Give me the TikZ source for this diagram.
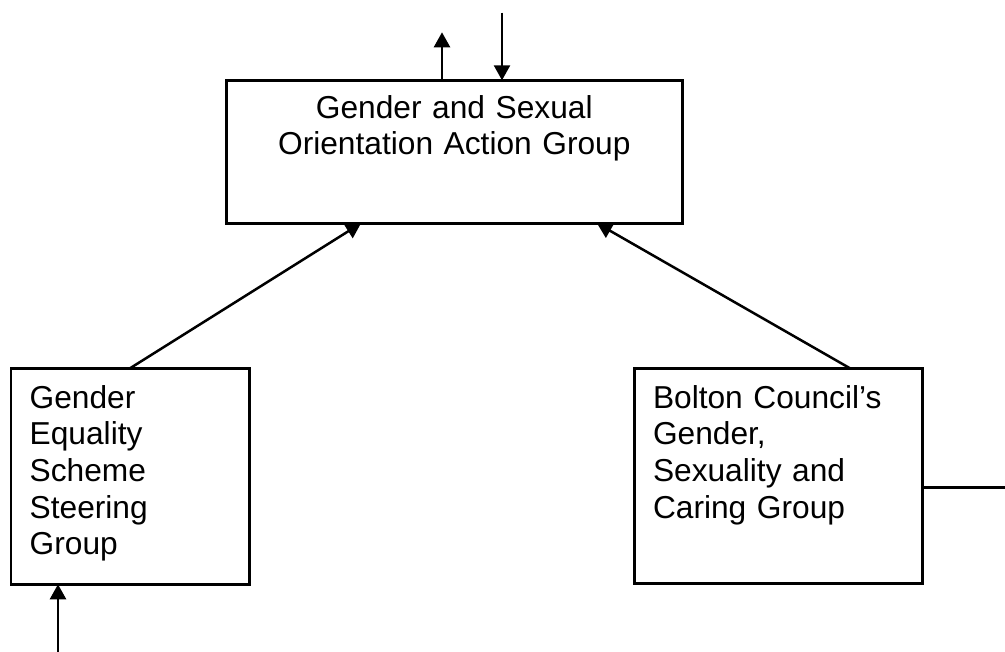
\documentclass[tikz,border=0pt]{standalone}
\usepackage{fontspec}
\setmainfont{Liberation Sans}
\usetikzlibrary{arrows.meta}

\tikzset{
  groupbox/.style={draw, line width=2.5pt, inner sep=0pt, outer sep=0pt, anchor=north west},
  grouptext/.style={inner sep=0pt, text width=#1, font=\fontsize{31.7}{36.6}\selectfont},
  link/.style={line width=2.5pt, -{Triangle[length=15pt,width=16pt]}}
}

\begin{document}
\begin{tikzpicture}[x=1pt, y=-1pt]
\useasboundingbox (0,0) rectangle (1005,652);

% boxes
\node[groupbox, minimum width=456pt, minimum height=143pt] (gsoag) at (226.3,80.3) {};
\node[groupbox, minimum width=238.5pt, minimum height=216pt] (gess) at (11,368.3) {};
\node[groupbox, minimum width=288.2pt, minimum height=215.2pt] (bolton) at (634.3,368.3) {};

% texts
\node[grouptext=440pt, align=center, anchor=base] (gsoagtext) at ([yshift=-38pt]gsoag.north)
  {Gender and Sexual\\Orientation Action Group};
\node[grouptext=215pt, align=left, anchor=base west] (gesstext) at ([shift={(18.5,40)}]gess.north west)
  {Gender\\Equality\\Scheme\\Steering\\Group};
\node[grouptext=265pt, align=left, anchor=base west] (boltontext) at ([shift={(18.5,40)}]bolton.north west)
  {Bolton Council’s\\Gender,\\Sexuality and\\Caring Group};

% free ends
\coordinate (outtop) at (442,32.3);
\coordinate (intop) at (502,12.7);
\coordinate (inbottom) at (58,652);
\coordinate (outright) at (1005,487.3);

% connectors
\draw[link] (outtop |- gsoag.north) -- (outtop);
\draw[link] (intop) -- (intop |- gsoag.north);
\draw[link] ([xshift=119pt]gess.north west) -- ([xshift=134.7pt]gsoag.south west);
\draw[link] ([xshift=215.7pt]bolton.north west) -- ([xshift=370.7pt]gsoag.south west);
\draw[link] (inbottom) -- (inbottom |- gess.south);
\draw[line width=2.5pt] (outright -| bolton.east) -- (outright);
\end{tikzpicture}
\end{document}
